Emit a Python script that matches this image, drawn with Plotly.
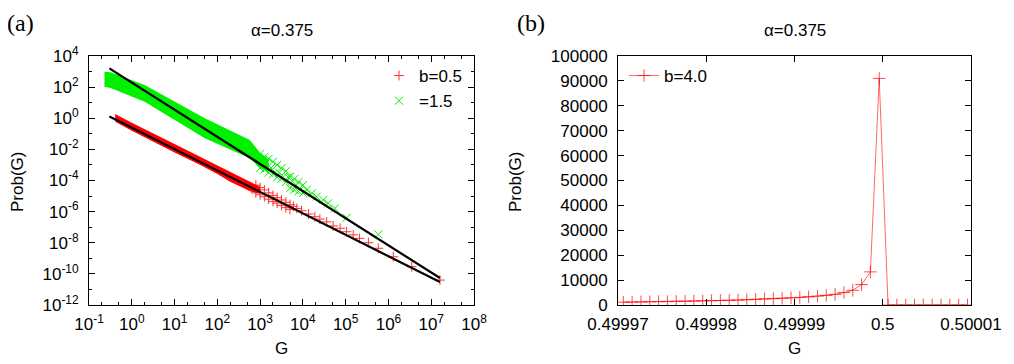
import plotly.graph_objects as go

# ---- panel (a): log-log distribution, alpha = 0.375 ----
# dense part of b=0.5 (red band edges)
red_band_G = [0.41, 1.0, 10, 40, 100, 200, 600, 1000]
red_band_top = [1.86, 0.52, 0.022, 3.4e-3, 8.9e-4, 3.7e-4, 8.0e-5, 4.0e-5]
red_band_bot = [0.60, 0.16, 6.3e-3, 1.0e-3, 2.6e-4, 8.3e-5, 2.0e-5, 1.4e-5]

# scattered / sparse part of b=0.5
red_G = [794, 794, 1000, 1000, 1260, 1260, 1580, 1580, 2000, 2000, 2500, 2500,
         3160, 3160, 4000, 4000, 5000, 5000, 6000, 7.2e3,
         9.3e3, 1.35e4, 1.9e4, 2.5e4, 3.6e4, 5.1e4, 7.4e4, 1.05e5, 1.5e5, 2.1e5,
         3.4e5, 5.8e5, 1.3e6, 3.5e6, 1.6e7]
red_P = [5.0e-5, 1.6e-5, 3.5e-5, 1.2e-5, 2.5e-5, 9.0e-6, 1.6e-5, 6.3e-6, 1.1e-5, 4.5e-6, 8.0e-6, 3.5e-6,
         5.6e-6, 2.5e-6, 4.0e-6, 1.8e-6, 2.8e-6, 1.4e-6, 2.2e-6, 1.6e-6,
         1.15e-6, 7.1e-7, 4.7e-7, 3.3e-7, 2.2e-7, 1.2e-7, 8.5e-8, 5.1e-8, 3.2e-8, 1.9e-8,
         1.0e-8, 4.4e-9, 1.26e-9, 2.9e-10, 4.0e-11]

# dense part of b=1.5 (green band edges)
green_band_G = [0.23, 0.32, 2.0, 10, 51, 575, 1000, 1600]
green_band_top = [977, 891, 138, 12, 1.0, 0.040, 6.0e-3, 2.2e-3]
green_band_bot = [107, 89, 11.5, 0.79, 0.051, 2.7e-3, 6.3e-4, 3.5e-4]

# scattered / sparse part of b=1.5
green_G = [1.0e3, 1.0e3, 1.12e3, 1.26e3, 1.26e3, 1.58e3, 1.58e3, 1.8e3, 2.0e3, 2.0e3, 2.5e3, 2.5e3,
           2.8e3, 3.16e3, 3.16e3, 4.0e3, 4.0e3, 4.5e3, 5.0e3, 5.0e3, 6.3e3, 6.3e3, 7.0e3, 7.9e3,
           7.9e3, 1.0e4, 1.0e4, 1.23e4, 1.62e4, 2.1e4, 3.0e4, 3.9e4, 5.6e4, 1.05e5, 5.8e5]
green_P = [5.0e-3, 6.3e-4, 1.6e-3, 3.2e-3, 5.0e-4, 2.5e-3, 3.2e-4, 6.3e-4, 1.6e-3, 2.5e-4, 1.0e-3, 1.6e-4,
           3.2e-4, 6.3e-4, 1.26e-4, 4.0e-4, 7.9e-5, 1.6e-4, 1.7e-4, 3.2e-5, 1.26e-4, 2.5e-5, 5.0e-5, 7.9e-5,
           2.0e-5, 5.0e-5, 1.6e-5, 2.5e-5, 1.5e-5, 9.1e-6, 5.6e-6, 3.4e-6, 1.6e-6, 4.0e-7, 3.4e-8]

# power-law fits (black lines)
fit_G = [0.3, 1.6e7]
fit_red = [1.3, 3.0e-11]
fit_green = [1600, 5.4e-11]

xa_vals = [0.1, 1, 10, 1e2, 1e3, 1e4, 1e5, 1e6, 1e7, 1e8]
xa_text = ["10<sup>-1</sup>", "10<sup>0</sup>", "10<sup>1</sup>", "10<sup>2</sup>", "10<sup>3</sup>",
           "10<sup>4</sup>", "10<sup>5</sup>", "10<sup>6</sup>", "10<sup>7</sup>", "10<sup>8</sup>"]
ya_vals = [1e4, 1e2, 1, 1e-2, 1e-4, 1e-6, 1e-8, 1e-10, 1e-12]
ya_text = ["10<sup>4</sup>", "10<sup>2</sup>", "10<sup>0</sup>", "10<sup>-2</sup>", "10<sup>-4</sup>",
           "10<sup>-6</sup>", "10<sup>-8</sup>", "10<sup>-10</sup>", "10<sup>-12</sup>"]

# ---- panel (b): b=4.0, linear ----
G_b4 = [0.4999706, 0.4999716, 0.4999726, 0.4999736, 0.4999746, 0.4999756, 0.4999766, 0.4999776,
        0.4999786, 0.4999796, 0.4999806, 0.4999816, 0.4999826, 0.4999836, 0.4999846, 0.4999856,
        0.4999866, 0.4999876, 0.4999886, 0.4999896, 0.4999906, 0.4999916, 0.4999926, 0.4999936,
        0.4999946, 0.4999956, 0.4999966, 0.4999976, 0.4999986, 0.4999996, 0.5000006, 0.5000016,
        0.5000026, 0.5000036, 0.5000046, 0.5000056, 0.5000066, 0.5000076, 0.5000086, 0.5000096]
P_b4 = [1150, 1190, 1230, 1280, 1330, 1380, 1440, 1500, 1570, 1640, 1720, 1810, 1900, 2000,
        2110, 2250, 2420, 2550, 2700, 2870, 3060, 3300, 3550, 3850, 4270, 5000, 5900, 8200,
        13300, 91000, 0, 0, 0, 0, 0, 0, 0, 0, 0, 0]
xb_vals = [0.49997, 0.49998, 0.49999, 0.5, 0.50001]
xb_text = ["0.49997", "0.49998", "0.49999", "0.5", "0.50001"]

RED = "#ff0000"
GREEN = "#00f000"
FONT = "Liberation Sans, Arial, sans-serif"
W, H = 1014, 364
OFF = 8  # default page margin of the html body


def fx(px):
    return (px - OFF) / W


def fy(py):
    return 1 - (py - OFF) / H


fig = go.Figure()

# panel (a)
fig.add_trace(go.Scatter(x=red_band_G + red_band_G[::-1], y=red_band_top + red_band_bot[::-1],
                         fill="toself", fillcolor=RED, line=dict(width=0), mode="lines",
                         showlegend=False, hoverinfo="skip", xaxis="x", yaxis="y"))
fig.add_trace(go.Scatter(x=green_band_G + green_band_G[::-1], y=green_band_top + green_band_bot[::-1],
                         fill="toself", fillcolor=GREEN, line=dict(width=0), mode="lines",
                         showlegend=False, hoverinfo="skip", xaxis="x", yaxis="y"))
fig.add_trace(go.Scatter(x=red_G, y=red_P, mode="markers", name="b=0.5",
                         marker=dict(symbol="cross-thin", size=7, line=dict(color=RED, width=1)),
                         opacity=0.8, xaxis="x", yaxis="y", legend="legend"))
fig.add_trace(go.Scatter(x=green_G, y=green_P, mode="markers", name="=1.5",
                         marker=dict(symbol="x-thin", size=8, line=dict(color=GREEN, width=1)),
                         xaxis="x", yaxis="y", legend="legend"))
fig.add_trace(go.Scatter(x=fit_G, y=fit_green, mode="lines", line=dict(color="black", width=2.2),
                         showlegend=False, xaxis="x", yaxis="y"))
fig.add_trace(go.Scatter(x=fit_G, y=fit_red, mode="lines", line=dict(color="black", width=2.2),
                         showlegend=False, xaxis="x", yaxis="y"))

# panel (b)
fig.add_trace(go.Scatter(x=G_b4, y=P_b4, mode="lines+markers", name="b=4.0",
                         line=dict(color="rgba(255,0,0,0.6)", width=1),
                         marker=dict(symbol="cross-thin", size=9, line=dict(color="rgba(255,0,0,0.7)", width=1)),
                         xaxis="x2", yaxis="y2", legend="legend2"))

ax_common = dict(showline=True, linecolor="black", linewidth=1, mirror="ticks", ticks="inside",
                 tickcolor="black", ticklen=6, showgrid=False, zeroline=False, automargin=False,
                 tickfont=dict(family=FONT, size=17, color="black"))

fig.update_layout(
    width=W, height=H, margin=dict(l=0, r=0, t=0, b=0),
    paper_bgcolor="white", plot_bgcolor="white",
    font=dict(family=FONT, size=17, color="black"),
    xaxis=dict(type="log", domain=[fx(89), fx(474)], range=[-1, 8], anchor="y",
               tickmode="array", tickvals=xa_vals, ticktext=xa_text, ticklabelstandoff=4,
               minor=dict(ticks="inside", ticklen=3, tickcolor="black", dtick="D2", showgrid=False),
               **ax_common),
    yaxis=dict(type="log", domain=[fy(305), fy(56)], range=[-12, 4], anchor="x",
               tickmode="array", tickvals=ya_vals, ticktext=ya_text, ticklabelstandoff=6,
               minor=dict(ticks="inside", ticklen=3, tickcolor="black", dtick=1, showgrid=False),
               **ax_common),
    xaxis2=dict(domain=[fx(618), fx(971)], range=[0.49997, 0.50001], anchor="y2",
                tickmode="array", tickvals=xb_vals, ticktext=xb_text, ticklabelstandoff=4,
                **ax_common),
    yaxis2=dict(domain=[fy(305), fy(56)], range=[0, 100000], anchor="x2",
                dtick=10000, tickformat="d", ticklabelstandoff=6, **ax_common),
    legend=dict(x=fx(468), y=fy(58), xanchor="right", yanchor="top",
                bgcolor="rgba(0,0,0,0)", font=dict(size=17), tracegroupgap=0),
    legend2=dict(x=fx(624), y=fy(58), xanchor="left", yanchor="top",
                 bgcolor="rgba(0,0,0,0)", font=dict(size=17)),
)

ann = [
    ("(a)", 20.5, 23, 0, "Liberation Serif, Times New Roman, serif", 24),
    ("(b)", 531, 23, 0, "Liberation Serif, Times New Roman, serif", 24),
    ("α=0.375", 281.5, 30, 0, FONT, 17),
    ("α=0.375", 794.5, 30, 0, FONT, 17),
    ("G", 281.5, 348, 0, FONT, 17),
    ("G", 794.5, 348, 0, FONT, 17),
    ("Prob(G)", 17, 182, -90, FONT, 17),
    ("Prob(G)", 515, 182, -90, FONT, 17),
]
for text, px, py, ang, fam, size in ann:
    fig.add_annotation(text=text, x=fx(px), y=fy(py), xref="paper", yref="paper",
                       xanchor="center", yanchor="middle", showarrow=False, textangle=ang,
                       font=dict(family=fam, size=size, color="black"))

fig.write_html("out.html")
